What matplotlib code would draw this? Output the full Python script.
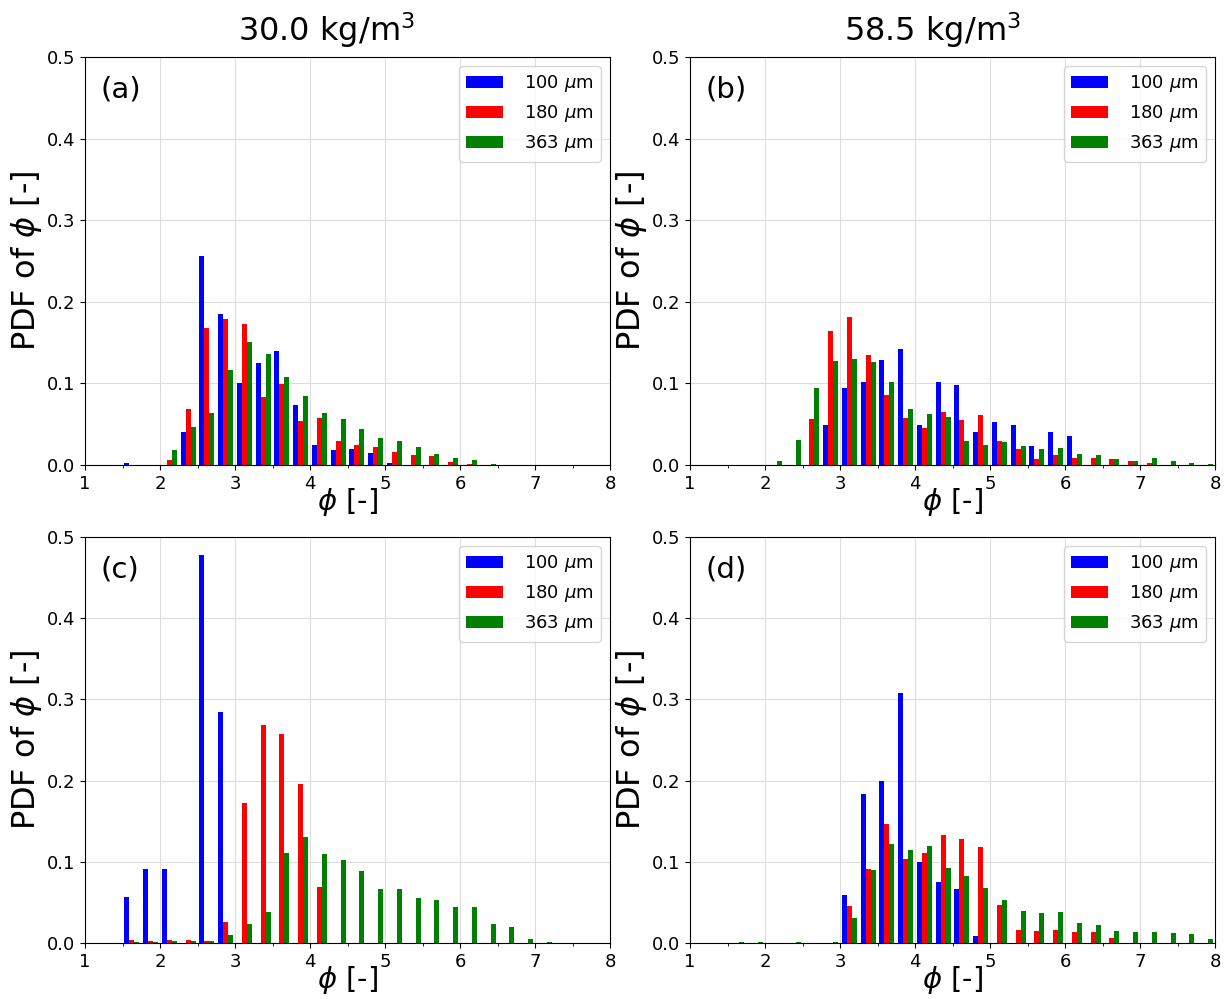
import numpy as np
import matplotlib
matplotlib.use('Agg')
import matplotlib.pyplot as plt
from matplotlib.ticker import MultipleLocator

# Bordes de los bins (ancho 0.25) y valores
bordes = np.arange(1.5, 8.01, 0.25)
centros = bordes[:-1] + 0.125

etiquetas = [r'100 $\mu$m', r'180 $\mu$m', r'363 $\mu$m']
colores = ['blue', 'red', 'green']

# (a) 30.0 kg/m3
a_100 = [0.002, 0, 0, 0.041, 0.256, 0.185, 0.100, 0.125, 0.140, 0.073, 0.024, 0.018, 0.019,
         0.015, 0.002, 0, 0, 0, 0, 0, 0, 0, 0, 0, 0, 0]
a_180 = [0, 0, 0.006, 0.069, 0.168, 0.179, 0.173, 0.083, 0.099, 0.054, 0.057, 0.029, 0.025,
         0.022, 0.016, 0.012, 0.011, 0.004, 0.001, 0, 0, 0, 0, 0, 0, 0]
a_363 = [0, 0, 0.018, 0.046, 0.064, 0.116, 0.151, 0.136, 0.108, 0.085, 0.064, 0.056, 0.044,
         0.033, 0.029, 0.022, 0.014, 0.009, 0.006, 0.001, 0, 0, 0, 0, 0, 0]

# (b) 58.5 kg/m3
b_100 = [0, 0, 0, 0, 0, 0.049, 0.094, 0.102, 0.129, 0.142, 0.049, 0.102, 0.098,
         0.040, 0.053, 0.049, 0.023, 0.040, 0.035, 0, 0, 0, 0, 0, 0, 0]
b_180 = [0, 0, 0, 0, 0.056, 0.164, 0.181, 0.135, 0.086, 0.058, 0.045, 0.065, 0.055,
         0.061, 0.030, 0.019, 0.007, 0.012, 0.009, 0.008, 0.007, 0.005, 0.003, 0, 0, 0]
b_363 = [0, 0, 0.005, 0.031, 0.094, 0.128, 0.130, 0.126, 0.102, 0.069, 0.063, 0.059, 0.029,
         0.025, 0.028, 0.023, 0.019, 0.021, 0.013, 0.012, 0.007, 0.005, 0.008, 0.005, 0.002, 0.001]

# (c) 30.0 kg/m3
c_100 = [0.057, 0.091, 0.091, 0, 0.478, 0.284, 0, 0, 0, 0, 0, 0, 0,
         0, 0, 0, 0, 0, 0, 0, 0, 0, 0, 0, 0, 0]
c_180 = [0.004, 0.003, 0.004, 0.004, 0.003, 0.026, 0.172, 0.268, 0.258, 0.196, 0.069, 0, 0,
         0, 0, 0, 0, 0, 0, 0, 0, 0, 0, 0, 0, 0]
c_363 = [0.001, 0.001, 0.002, 0.002, 0.003, 0.010, 0.024, 0.038, 0.111, 0.130, 0.109, 0.102, 0.089,
         0.067, 0.067, 0.055, 0.053, 0.044, 0.044, 0.024, 0.020, 0.005, 0.001, 0, 0, 0]

# (d) 58.5 kg/m3
d_100 = [0, 0, 0, 0, 0, 0, 0.059, 0.184, 0.200, 0.308, 0.100, 0.075, 0.067,
         0.009, 0, 0, 0, 0, 0, 0, 0, 0, 0, 0, 0, 0]
d_180 = [0, 0, 0, 0, 0, 0, 0.045, 0.091, 0.147, 0.104, 0.111, 0.133, 0.128,
         0.118, 0.047, 0.016, 0.015, 0.016, 0.013, 0.013, 0.006, 0, 0, 0, 0, 0]
d_363 = [0.001, 0.001, 0, 0.001, 0, 0.001, 0.031, 0.090, 0.122, 0.114, 0.119, 0.092, 0.083,
         0.068, 0.053, 0.039, 0.037, 0.038, 0.025, 0.022, 0.015, 0.014, 0.014, 0.012, 0.011, 0.005]

paneles = [
    ('(a)', [a_100, a_180, a_363], [85, 57, 610, 465]),
    ('(b)', [b_100, b_180, b_363], [690, 57, 1215, 465]),
    ('(c)', [c_100, c_180, c_363], [85, 537, 610, 943]),
    ('(d)', [d_100, d_180, d_363], [690, 537, 1215, 943]),
]

W, H = 1224, 999
fig = plt.figure(figsize=(W / 100, H / 100), dpi=100)

for letra, series, (x0, y0, x1, y1) in paneles:
    ax = fig.add_axes([x0 / W, 1 - y1 / H, (x1 - x0) / W, (y1 - y0) / H])
    ax.hist([centros] * 3, bins=bordes, weights=series, color=colores, label=etiquetas)
    ax.set_xlim(1, 8)
    ax.set_ylim(0, 0.5)
    ax.xaxis.set_major_locator(MultipleLocator(1))
    ax.xaxis.set_minor_locator(MultipleLocator(0.5))
    ax.yaxis.set_major_locator(MultipleLocator(0.1))
    ax.tick_params(labelsize=13)
    ax.grid(True, color='#dddddd', linewidth=0.8)
    ax.set_axisbelow(True)
    ax.set_xlabel(r'$\phi$ [-]', fontsize=21, labelpad=-5)
    ax.set_ylabel(r'PDF of $\phi$ [-]', fontsize=23, labelpad=2)
    ax.text(0.03, 0.92, letra, transform=ax.transAxes, fontsize=21, va='center')
    ax.legend(loc='upper right', fontsize=13, handletextpad=1.2)

fig.text(326 / W, 1 - 30 / H, r'30.0 kg/m$^3$', fontsize=23, ha='center', va='center')
fig.text(932 / W, 1 - 30 / H, r'58.5 kg/m$^3$', fontsize=23, ha='center', va='center')

plt.savefig('out.png', dpi=100)
